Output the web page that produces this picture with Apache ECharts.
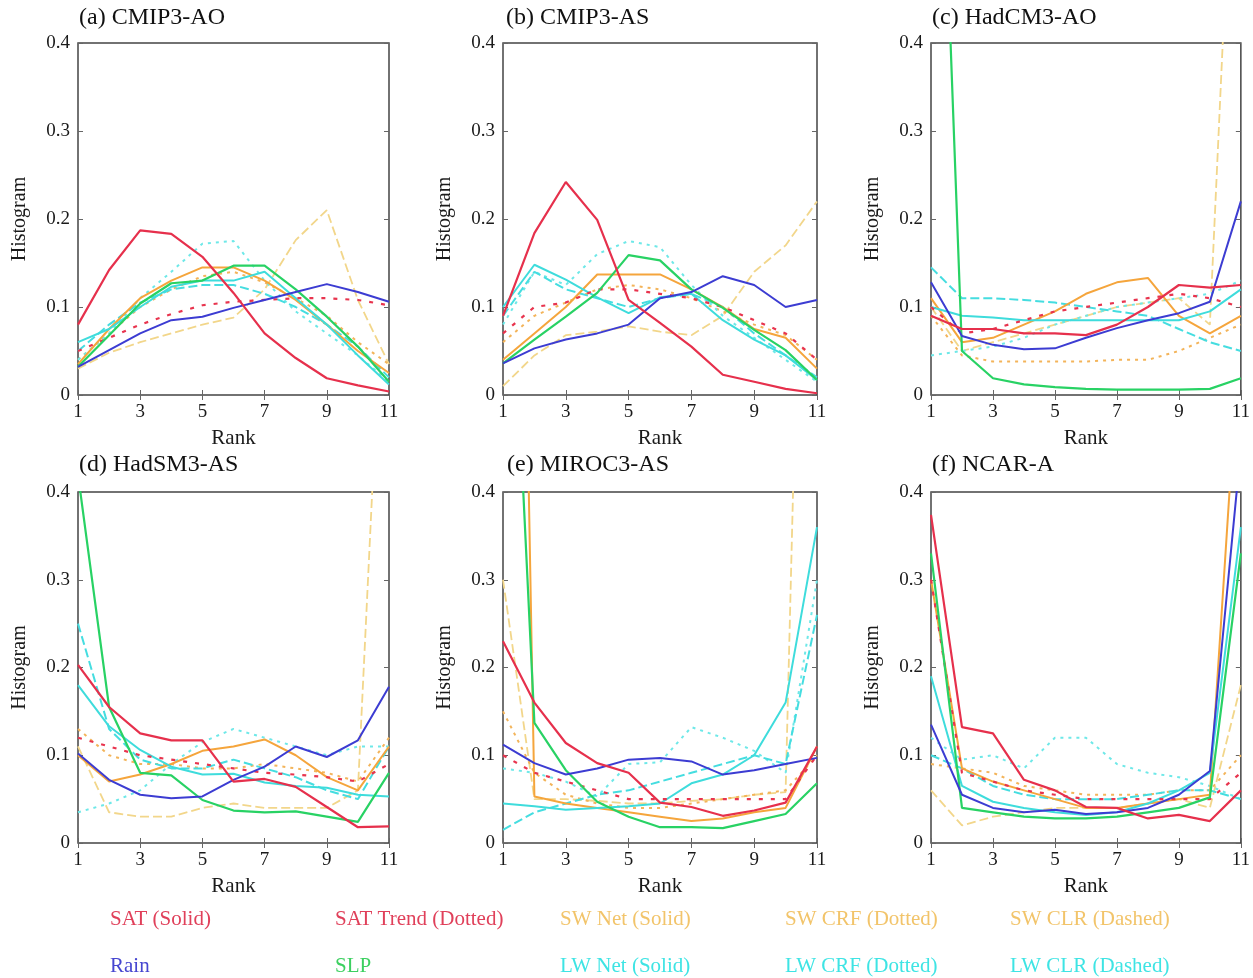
<!DOCTYPE html>
<html><head><meta charset="utf-8">
<script src="https://cdn.jsdelivr.net/npm/echarts@6/dist/echarts.min.js"></script>
<style>html,body{margin:0;padding:0;background:#fff}#c{width:1253px;height:978px}</style>
</head><body><div id="c"></div>
<script>
// ---------- data ----------
const ranks = [1, 2, 3, 4, 5, 6, 7, 8, 9, 10, 11];
const panelTitles = ['(a) CMIP3-AO', '(b) CMIP3-AS', '(c) HadCM3-AO', '(d) HadSM3-AS', '(e) MIROC3-AS', '(f) NCAR-A'];
const yTickLabels = ['0', '0.1', '0.2', '0.3', '0.4'];
const legendRow1 = ['SAT (Solid)', 'SAT Trend (Dotted)', 'SW Net (Solid)', 'SW CRF (Dotted)', 'SW CLR (Dashed)'];
const legendRow2 = ['Rain', 'SLP', 'LW Net (Solid)', 'LW CRF (Dotted)', 'LW CLR (Dashed)'];

// (a) CMIP3-AO
const satA      = [0.080, 0.142, 0.187, 0.183, 0.157, 0.116, 0.070, 0.042, 0.019, 0.011, 0.004];
const satTrendA = [0.050, 0.065, 0.080, 0.092, 0.102, 0.106, 0.108, 0.110, 0.110, 0.108, 0.102];
const rainA     = [0.032, 0.051, 0.070, 0.085, 0.089, 0.099, 0.108, 0.117, 0.126, 0.117, 0.106];
const slpA      = [0.032, 0.068, 0.104, 0.127, 0.130, 0.147, 0.147, 0.120, 0.089, 0.055, 0.015];
const swNetA    = [0.035, 0.075, 0.110, 0.130, 0.145, 0.145, 0.130, 0.108, 0.080, 0.050, 0.025];
const swCrfA    = [0.040, 0.070, 0.100, 0.120, 0.135, 0.140, 0.128, 0.110, 0.090, 0.060, 0.035];
const swClrA    = [0.030, 0.048, 0.060, 0.070, 0.080, 0.088, 0.120, 0.176, 0.210, 0.108, 0.035];
const lwNetA    = [0.060, 0.075, 0.100, 0.123, 0.130, 0.130, 0.140, 0.110, 0.080, 0.045, 0.012];
const lwCrfA    = [0.040, 0.070, 0.110, 0.140, 0.172, 0.175, 0.130, 0.095, 0.070, 0.045, 0.015];
const lwClrA    = [0.050, 0.080, 0.105, 0.120, 0.125, 0.125, 0.115, 0.100, 0.080, 0.055, 0.020];

// (b) CMIP3-AS
const satB      = [0.090, 0.184, 0.242, 0.199, 0.108, 0.082, 0.055, 0.023, 0.015, 0.007, 0.002];
const satTrendB = [0.070, 0.100, 0.105, 0.120, 0.120, 0.115, 0.110, 0.100, 0.085, 0.070, 0.040];
const rainB     = [0.036, 0.053, 0.063, 0.070, 0.080, 0.110, 0.117, 0.135, 0.125, 0.100, 0.108];
const slpB      = [0.036, 0.063, 0.089, 0.116, 0.159, 0.153, 0.120, 0.099, 0.074, 0.051, 0.017];
const swNetB    = [0.040, 0.070, 0.100, 0.137, 0.137, 0.137, 0.120, 0.100, 0.075, 0.065, 0.030];
const swCrfB    = [0.060, 0.090, 0.105, 0.120, 0.125, 0.120, 0.110, 0.095, 0.080, 0.068, 0.040];
const swClrB    = [0.010, 0.045, 0.068, 0.072, 0.078, 0.072, 0.068, 0.090, 0.140, 0.170, 0.220];
const lwNetB    = [0.100, 0.148, 0.131, 0.111, 0.093, 0.111, 0.115, 0.085, 0.063, 0.045, 0.017];
const lwCrfB    = [0.080, 0.140, 0.125, 0.160, 0.175, 0.168, 0.125, 0.090, 0.065, 0.040, 0.015];
const lwClrB    = [0.090, 0.140, 0.120, 0.110, 0.100, 0.110, 0.115, 0.100, 0.070, 0.045, 0.020];

// (c) HadCM3-AO
const satC      = [0.090, 0.075, 0.075, 0.070, 0.070, 0.068, 0.080, 0.100, 0.125, 0.122, 0.125];
const satTrendC = [0.100, 0.070, 0.075, 0.085, 0.095, 0.100, 0.105, 0.110, 0.115, 0.110, 0.100];
const rainC     = [0.128, 0.067, 0.057, 0.052, 0.053, 0.065, 0.076, 0.085, 0.093, 0.106, 0.220];
const slpC      = [1.000, 0.050, 0.019, 0.012, 0.009, 0.007, 0.006, 0.006, 0.006, 0.007, 0.019];
const swNetC    = [0.110, 0.060, 0.065, 0.080, 0.095, 0.115, 0.128, 0.133, 0.090, 0.070, 0.090];
const swCrfC    = [0.090, 0.045, 0.038, 0.038, 0.038, 0.038, 0.040, 0.040, 0.050, 0.065, 0.080];
const swClrC    = [0.100, 0.050, 0.060, 0.070, 0.080, 0.090, 0.100, 0.105, 0.110, 0.080, 0.850];
const lwNetC    = [0.100, 0.090, 0.088, 0.085, 0.085, 0.085, 0.085, 0.085, 0.085, 0.095, 0.120];
const lwCrfC    = [0.045, 0.050, 0.055, 0.065, 0.080, 0.090, 0.100, 0.105, 0.110, 0.115, 0.130];
const lwClrC    = [0.145, 0.110, 0.110, 0.108, 0.105, 0.100, 0.095, 0.090, 0.075, 0.060, 0.050];

// (d) HadSM3-AS
const satD      = [0.203, 0.155, 0.125, 0.117, 0.117, 0.070, 0.073, 0.064, 0.041, 0.018, 0.019];
const satTrendD = [0.120, 0.110, 0.100, 0.095, 0.090, 0.085, 0.080, 0.078, 0.075, 0.070, 0.090];
const rainD     = [0.102, 0.072, 0.055, 0.051, 0.053, 0.072, 0.087, 0.110, 0.098, 0.117, 0.178];
const slpD      = [0.420, 0.155, 0.080, 0.077, 0.049, 0.037, 0.035, 0.036, 0.030, 0.024, 0.080];
const swNetD    = [0.100, 0.070, 0.078, 0.090, 0.105, 0.110, 0.118, 0.100, 0.075, 0.060, 0.110];
const swCrfD    = [0.130, 0.100, 0.090, 0.090, 0.085, 0.085, 0.090, 0.085, 0.080, 0.070, 0.120];
const swClrD    = [0.110, 0.035, 0.030, 0.030, 0.040, 0.045, 0.040, 0.040, 0.040, 0.060, 0.800];
const lwNetD    = [0.180, 0.133, 0.106, 0.087, 0.078, 0.079, 0.069, 0.065, 0.063, 0.055, 0.053];
const lwCrfD    = [0.035, 0.045, 0.060, 0.090, 0.115, 0.130, 0.120, 0.110, 0.100, 0.110, 0.110];
const lwClrD    = [0.250, 0.130, 0.095, 0.085, 0.085, 0.095, 0.085, 0.075, 0.060, 0.050, 0.110];

// (e) MIROC3-AS
const satE      = [0.230, 0.160, 0.114, 0.091, 0.080, 0.046, 0.041, 0.031, 0.037, 0.046, 0.110];
const satTrendE = [0.100, 0.080, 0.070, 0.060, 0.050, 0.050, 0.050, 0.050, 0.050, 0.050, 0.100];
const rainE     = [0.112, 0.091, 0.078, 0.085, 0.095, 0.097, 0.093, 0.078, 0.083, 0.090, 0.097];
const slpE      = [0.880, 0.137, 0.083, 0.047, 0.030, 0.018, 0.018, 0.017, 0.025, 0.033, 0.068];
const swNetE    = [2.000, 0.053, 0.045, 0.040, 0.035, 0.030, 0.025, 0.028, 0.035, 0.040, 0.110];
const swCrfE    = [0.150, 0.080, 0.055, 0.045, 0.040, 0.040, 0.045, 0.050, 0.055, 0.060, 0.100];
const swClrE    = [0.300, 0.050, 0.050, 0.048, 0.045, 0.045, 0.048, 0.050, 0.055, 0.058, 1.500];
const lwNetE    = [0.045, 0.042, 0.038, 0.040, 0.042, 0.045, 0.068, 0.078, 0.100, 0.160, 0.360];
const lwCrfE    = [0.085, 0.080, 0.070, 0.053, 0.090, 0.092, 0.132, 0.120, 0.105, 0.080, 0.300];
const lwClrE    = [0.015, 0.035, 0.045, 0.055, 0.060, 0.070, 0.080, 0.090, 0.100, 0.090, 0.260];

// (f) NCAR-A
const satF      = [0.374, 0.132, 0.125, 0.072, 0.060, 0.041, 0.040, 0.028, 0.032, 0.025, 0.060];
const satTrendF = [0.300, 0.080, 0.070, 0.060, 0.055, 0.050, 0.050, 0.050, 0.050, 0.050, 0.080];
const rainF     = [0.135, 0.055, 0.040, 0.035, 0.038, 0.033, 0.035, 0.040, 0.055, 0.082, 0.450];
const slpF      = [0.330, 0.040, 0.035, 0.030, 0.028, 0.028, 0.030, 0.035, 0.040, 0.052, 0.330];
const swNetF    = [0.300, 0.085, 0.070, 0.060, 0.050, 0.040, 0.040, 0.045, 0.050, 0.055, 0.600];
const swCrfF    = [0.090, 0.085, 0.080, 0.065, 0.060, 0.055, 0.055, 0.055, 0.060, 0.060, 0.100];
const swClrF    = [0.060, 0.020, 0.030, 0.035, 0.040, 0.040, 0.040, 0.045, 0.050, 0.040, 0.180];
const lwNetF    = [0.190, 0.065, 0.047, 0.040, 0.035, 0.032, 0.035, 0.045, 0.060, 0.080, 0.360];
const lwCrfF    = [0.120, 0.095, 0.100, 0.085, 0.120, 0.120, 0.090, 0.080, 0.075, 0.065, 0.050];
const lwClrF    = [0.100, 0.085, 0.065, 0.055, 0.050, 0.050, 0.050, 0.055, 0.060, 0.060, 0.050];

const panelData = [
  {sat: satA, satTrend: satTrendA, rain: rainA, slp: slpA, swNet: swNetA, swCrf: swCrfA, swClr: swClrA, lwNet: lwNetA, lwCrf: lwCrfA, lwClr: lwClrA},
  {sat: satB, satTrend: satTrendB, rain: rainB, slp: slpB, swNet: swNetB, swCrf: swCrfB, swClr: swClrB, lwNet: lwNetB, lwCrf: lwCrfB, lwClr: lwClrB},
  {sat: satC, satTrend: satTrendC, rain: rainC, slp: slpC, swNet: swNetC, swCrf: swCrfC, swClr: swClrC, lwNet: lwNetC, lwCrf: lwCrfC, lwClr: lwClrC},
  {sat: satD, satTrend: satTrendD, rain: rainD, slp: slpD, swNet: swNetD, swCrf: swCrfD, swClr: swClrD, lwNet: lwNetD, lwCrf: lwCrfD, lwClr: lwClrD},
  {sat: satE, satTrend: satTrendE, rain: rainE, slp: slpE, swNet: swNetE, swCrf: swCrfE, swClr: swClrE, lwNet: lwNetE, lwCrf: lwCrfE, lwClr: lwClrE},
  {sat: satF, satTrend: satTrendF, rain: rainF, slp: slpF, swNet: swNetF, swCrf: swCrfF, swClr: swClrF, lwNet: lwNetF, lwCrf: lwCrfF, lwClr: lwClrF}
];

// ---------- styling / layout ----------
const FONT = '"Liberation Serif", "DejaVu Serif", serif';
const gridBoxes = [
  {left: 78,  top: 43,  width: 311, height: 352},
  {left: 503, top: 43,  width: 314, height: 352},
  {left: 931, top: 43,  width: 314, height: 352},
  {left: 78,  top: 492, width: 311, height: 351},
  {left: 503, top: 492, width: 314, height: 351},
  {left: 931, top: 492, width: 314, height: 351}
];
const titlePos = [[79, 6], [506, 6], [932, 6], [79, 453], [507, 453], [932, 453]];
const seriesStyles = [
  {key: 'swClr',    color: '#f2d68a', type: [9, 4], width: 1.8},
  {key: 'swCrf',    color: '#f3b45a', type: [3, 5], width: 2},
  {key: 'lwCrf',    color: '#6ee8e8', type: [3, 5], width: 2},
  {key: 'lwClr',    color: '#45dde0', type: [9, 4], width: 2},
  {key: 'swNet',    color: '#f5a53c', type: 'solid', width: 2},
  {key: 'lwNet',    color: '#3edcdc', type: 'solid', width: 2},
  {key: 'satTrend', color: '#e8344e', type: [4, 8], width: 2.2},
  {key: 'slp',      color: '#28d264', type: 'solid', width: 2.2},
  {key: 'rain',     color: '#3c3cd2', type: 'solid', width: 2},
  {key: 'sat',      color: '#e6304c', type: 'solid', width: 2.2}
];
const legendColors1 = ['#e0405a', '#e0405a', '#f2c46a', '#f2c46a', '#f2c46a'];
const legendColors2 = ['#4646d0', '#3cd060', '#3ee4e4', '#3ee4e4', '#3ee4e4'];
const legendX = [110, 335, 560, 785, 1010];

const grid = [], xAxis = [], yAxis = [], series = [], graphic = [];
gridBoxes.forEach((g, i) => {
  grid.push(Object.assign({show: true, borderColor: '#444', borderWidth: 1.5, backgroundColor: 'transparent'}, g));
  const tick = {show: true, inside: true, length: 5, lineStyle: {color: '#666', width: 1}};
  xAxis.push({
    type: 'value', gridIndex: i, min: 1, max: 11, interval: 2,
    axisLine: {show: false}, axisTick: tick, splitLine: {show: false},
    axisLabel: {fontFamily: FONT, fontSize: 19, color: '#1a1a1a', margin: 8},
    name: 'Rank', nameLocation: 'middle', nameGap: 33,
    nameTextStyle: {fontFamily: FONT, fontSize: 21, color: '#1a1a1a'}
  });
  xAxis.push({
    type: 'value', gridIndex: i, position: 'top', min: 1, max: 11, interval: 2,
    axisLine: {show: false}, axisTick: tick, axisLabel: {show: false}, splitLine: {show: false}
  });
  yAxis.push({
    type: 'value', gridIndex: i, min: 0, max: 0.4, interval: 0.1,
    axisLine: {show: false}, axisTick: tick, splitLine: {show: false},
    axisLabel: {fontFamily: FONT, fontSize: 19, color: '#1a1a1a', margin: 8,
      formatter: v => yTickLabels[Math.round(v * 10)]},
    name: 'Histogram', nameLocation: 'middle', nameGap: 48,
    nameTextStyle: {fontFamily: FONT, fontSize: 20, color: '#1a1a1a'}
  });
  yAxis.push({
    type: 'value', gridIndex: i, position: 'right', min: 0, max: 0.4, interval: 0.1,
    axisLine: {show: false}, axisTick: tick, axisLabel: {show: false}, splitLine: {show: false}
  });
  seriesStyles.forEach(s => {
    series.push({
      type: 'line', xAxisIndex: 2 * i, yAxisIndex: 2 * i, clip: true,
      symbol: 'none', silent: true, animation: false,
      lineStyle: {color: s.color, width: s.width, type: s.type},
      data: ranks.map((r, k) => [r, panelData[i][s.key][k]])
    });
  });
  graphic.push({type: 'text', left: titlePos[i][0], top: titlePos[i][1],
    style: {text: panelTitles[i], font: '24px ' + FONT, fill: '#111'}});
});
legendRow1.forEach((t, k) => graphic.push({type: 'text', left: legendX[k], top: 909,
  style: {text: t, font: '21px ' + FONT, fill: legendColors1[k]}}));
legendRow2.forEach((t, k) => graphic.push({type: 'text', left: legendX[k], top: 956,
  style: {text: t, font: '21px ' + FONT, fill: legendColors2[k]}}));

const chart = echarts.init(document.getElementById('c'), null, {renderer: 'canvas'});
chart.setOption({animation: false, backgroundColor: '#fff', grid, xAxis, yAxis, series, graphic});
</script>
</body></html>
